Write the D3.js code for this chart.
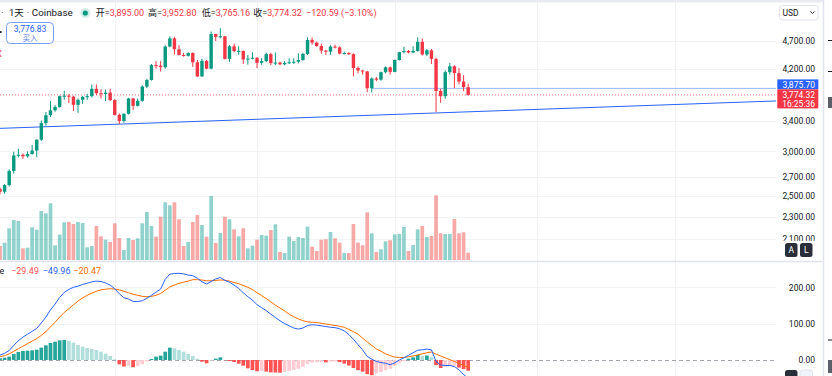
<!DOCTYPE html>
<html><head><meta charset="utf-8">
<script src="https://cdn.jsdelivr.net/npm/d3@7/dist/d3.min.js"></script>
<style>html,body{margin:0;padding:0;background:#fff;overflow:hidden}svg{display:block}text{font-family:Roboto,"Noto Sans CJK SC",sans-serif}</style>
</head><body><svg id="c" width="832" height="376"></svg>
<script>
// ---------------- DATA ----------------
const startDate = "2025-07-07"; // first daily candle (ETH/USD, Coinbase)
const opens = [2575,2545,2615,2770,2950,2958,2940,2968,3010,3145,3365,3475,3545,3592,3755,3762,3748,3625,3700,3745,
3755,3870,3800,3788,3810,3695,3480,3395,3495,3720,3610,3685,3905,4010,4260,4250,4225,4595,4750,4545,
4440,4425,4475,4310,4070,4335,4200,4835,4780,4790,4370,4600,4510,4515,4360,4375,4390,4300,4330,4455,
4295,4305,4275,4300,4310,4320,4350,4460,4720,4670,4605,4520,4500,4594,4580,4465,4475,4455,4210,4168,
4152,3878,4035,4015,4140,4222,4145,4350,4490,4515,4485,4515,4685,4450,4525,4370,3835,3755,4140,4240,
4125,3985,3895];
const highs = [2590,2625,2790,2995,3030,2975,3000,3080,3150,3400,3520,3680,3620,3765,3840,3790,3760,3720,3760,3790,
3935,3940,3860,3860,3870,3710,3500,3500,3730,3730,3720,3925,4030,4280,4330,4330,4620,4790,4780,4620,
4480,4490,4490,4350,4370,4350,4885,4840,4950,4800,4620,4650,4600,4520,4440,4490,4400,4385,4485,4480,
4485,4320,4330,4380,4380,4470,4480,4770,4770,4690,4650,4530,4620,4630,4600,4500,4490,4470,4240,4180,
4160,4055,4060,4150,4240,4235,4360,4500,4590,4530,4600,4770,4750,4550,4550,4390,3870,4170,4300,4260,
4210,4090,3952.80];
const lows = [2520,2525,2600,2740,2925,2910,2925,2960,2930,3130,3330,3450,3525,3585,3700,3650,3535,3510,3640,3700,
3735,3770,3720,3680,3680,3470,3355,3370,3485,3550,3600,3670,3880,4000,4200,4150,4200,4580,4450,4430,
4410,4410,4230,4060,4060,4190,4190,4700,4750,4360,4320,4490,4445,4280,4270,4360,4210,4265,4310,4260,
4260,4260,4260,4280,4280,4290,4340,4440,4630,4590,4460,4440,4440,4560,4450,4450,4440,4070,4120,4100,
3815,3815,3990,4000,4120,4100,4140,4340,4470,4470,4470,4500,4430,4420,4280,3520,3655,3715,4100,3880,
3940,3830,3765.16];
const closes = [2545,2615,2770,2950,2958,2940,2968,3010,3145,3365,3475,3545,3592,3755,3762,3748,3625,3700,3745,3755,
3870,3800,3788,3810,3695,3480,3395,3495,3720,3610,3685,3905,4010,4260,4250,4225,4595,4750,4545,4440,
4425,4475,4310,4070,4335,4200,4835,4780,4790,4370,4600,4510,4515,4360,4375,4390,4300,4330,4455,4295,
4305,4275,4300,4310,4320,4350,4460,4720,4670,4605,4520,4500,4594,4580,4465,4475,4455,4210,4168,4152,
3878,4035,4015,4140,4222,4145,4350,4490,4515,4485,4515,4685,4450,4525,4370,3835,3755,4140,4240,4125,
3985,3895,3774.32];
// volume, thousand ETH
const volumes = [140,173,317,400,390,117,123,327,303,490,467,567,147,253,377,380,360,380,370,127,
140,340,237,203,180,367,220,100,220,200,217,367,480,340,233,433,577,547,577,407,
140,180,380,450,350,233,640,170,270,433,407,307,237,317,117,143,203,250,243,300,
357,80,70,233,190,230,220,333,133,90,203,207,280,217,173,70,70,360,173,147,
477,267,80,107,187,197,257,260,330,90,150,307,340,230,240,647,267,260,260,410,
267,277,73];
const macdLine = [13.6,18.4,26,40.5,53,63,71,79,87,102,118,138,154,172,186,194,200,203,208,211,
215,217,216,212,206,196,182,171,168,161,161,163,170,178,187,195,222,236,238,238.5,
237,233.5,232,225,215,209,216,223,227,219,214,206,197,185,174,165,152,144,136,126,
117,108,100,94,88,85,88,95,97,96,94,92,90,89,86,80,70,57,42,28,
10,2,-4,-7,-9,-13,-8,0,6,13,20,27,28,30,28,-4,-14,-15,-15,-18,
-27,-40,-49.96];
const signalLine = [9,12,17,24,31,38,45,52,59,68,78,91,104,118,131,141,152,162,171,178,
184,189,193,195,196,195,193,189,185,181,178,175,174,175,178,183,192,201,206,211,
214,217,221,221,220,218,218,219,220,219.5,217,213,210,205,200,194,185,177,169,160,
151,143,135,126,119,113,108,105,104,103,101,99,97,95,93,90,84,78,71,60,
50,40,30,24,17,12,8,7,7,9,11,14,17,20,22,16,11,6,1,-4,
-9,-15,-20.47];
const histogram = [4.6,6.4,9.2,16.5,22,24.8,25.7,26.6,28.4,33.9,40.3,46.8,50.4,54.1,55,53,47.7,41.3,36.7,33,
30.3,27.5,22.9,17.4,11,1.8,-12,-18,-16,-20,-17,-12,-4,2.7,9.2,11.9,22.9,33.9,32,27.5,
22.9,16.5,11,3.7,-4.6,-9.2,-1.8,3.7,7.3,-0.5,-2.8,-5.5,-10,-15.6,-22.9,-27.5,-31,-30,-32,-34,
-34.5,-35,-33,-30,-27,-24,-19,-11,-7,-6,-5.5,-6.5,-4.5,-4,-6,-10,-15,-22,-28,-32,
-39,-42,-37,-33,-28,-24,-16,-9,-3,3.7,7.3,13.8,11,12.5,8.5,-14,-22,-19,-17,-16,
-21,-25,-29.49];
const priceTicks = [4700,4200,3400,3000,2700,2500,2300,2100];
const macdTicks = [200,100,0];
const trendAnchors = [{date:"2025-07-07", price:3294},{date:"2025-12-31", price:3702}];
const rayLevel = {date:"2025-09-26", price:3875.70};
const lastPrice = 3774.32;
const countdown = "16:25:36";
const buyPrice = "3,776.83";
const legendOHLC = {open:3895.00, high:3952.80, low:3765.16, close:3774.32, change:-120.59, pct:-3.10};
const macdLegend = {hist:-29.49, macd:-49.96, signal:-20.47};

// ---------------- LAYOUT ----------------
const svg = d3.select('#c');
const W = 832, H = 376, plotR = 776, step = 4.59;
const UP = '#089981', DN = '#f23645';
const parse = d3.utcParse('%Y-%m-%d');
const d0 = parse(startDate);
const dates = opens.map((_, i) => d3.utcDay.offset(d0, i));
const x = d3.scaleUtc().domain([d0, d3.utcDay.offset(d0, 177)]).range([0, 177 * step]);
const y = d3.scaleLog().domain([4700, 2100]).range([41, 239]);
const yV = d3.scaleLinear().domain([0, 700]).range([260, 190]);
const yM = d3.scaleLinear().domain([0, 200]).range([360, 287.3]);
const fmt = d3.format(',.2f');
const minus = s => s.replace('-', '−');

const defs = svg.append('defs');
defs.append('clipPath').attr('id','cm').append('rect').attr('x',0).attr('y',3).attr('width',plotR).attr('height',258);
defs.append('clipPath').attr('id','cd').append('rect').attr('x',0).attr('y',262).attr('width',plotR).attr('height',H-262);

svg.append('rect').attr('width',W).attr('height',H).attr('fill','#fff');
svg.append('rect').attr('width',W).attr('height',2.5).attr('fill','#e9ebf0');

// grid
const grid = svg.append('g');
grid.selectAll('.hg').data(priceTicks).join('line')
  .attr('x1',0).attr('x2',plotR).attr('y1',d=>Math.round(y(d))+0.5).attr('y2',d=>Math.round(y(d))+0.5)
  .attr('stroke','#f2f3f5');
grid.selectAll('.mg').data([200,100]).join('line')
  .attr('x1',0).attr('x2',plotR).attr('y1',d=>Math.round(yM(d))+0.5).attr('y2',d=>Math.round(yM(d))+0.5)
  .attr('stroke','#f2f3f5');
const months = d3.utcMonth.range(d3.utcMonth.ceil(d0), d3.utcDay.offset(d0, 170));
grid.selectAll('.vg').data(months).join('line')
  .attr('x1',d=>Math.round(x(d))+0.5).attr('x2',d=>Math.round(x(d))+0.5).attr('y1',3).attr('y2',H)
  .attr('stroke','#f0f1f4');

// main pane
const main = svg.append('g').attr('clip-path','url(#cm)');
const bw = 3.4, vw = 3.7;
main.selectAll('.vol').data(volumes).join('rect')
  .attr('x',(d,i)=>x(dates[i])-vw/2).attr('width',vw)
  .attr('y',d=>yV(d)).attr('height',d=>yV(0)-yV(d))
  .attr('fill',(d,i)=>closes[i]>=opens[i]?'rgba(38,166,154,0.5)':'rgba(239,83,80,0.5)');

// price line dotted
main.append('line').attr('x1',0).attr('x2',plotR).attr('y1',y(lastPrice)).attr('y2',y(lastPrice))
  .attr('stroke',DN).attr('stroke-opacity',0.7).attr('stroke-dasharray','1,2');
// horizontal ray
main.append('line').attr('x1',x(parse(rayLevel.date))).attr('x2',plotR)
  .attr('y1',y(rayLevel.price)).attr('y2',y(rayLevel.price)).attr('stroke','#9db7f8').attr('stroke-width',1);
// trend line
main.append('line')
  .attr('x1',x(parse(trendAnchors[0].date))).attr('y1',y(trendAnchors[0].price))
  .attr('x2',x(parse(trendAnchors[1].date))).attr('y2',y(trendAnchors[1].price))
  .attr('stroke','#2962ff').attr('stroke-width',1);

const cg = main.selectAll('.c').data(opens).join('g');
cg.append('line')
  .attr('x1',(d,i)=>x(dates[i])).attr('x2',(d,i)=>x(dates[i]))
  .attr('y1',(d,i)=>y(highs[i])).attr('y2',(d,i)=>y(lows[i]))
  .attr('stroke',(d,i)=>closes[i]>=opens[i]?UP:DN).attr('stroke-width',1);
cg.append('rect')
  .attr('x',(d,i)=>x(dates[i])-bw/2).attr('width',bw)
  .attr('y',(d,i)=>y(Math.max(opens[i],closes[i])))
  .attr('height',(d,i)=>Math.max(1,Math.abs(y(opens[i])-y(closes[i]))))
  .attr('fill',(d,i)=>closes[i]>=opens[i]?UP:DN);

// pane separator
svg.append('line').attr('x1',0).attr('x2',823).attr('y1',261.5).attr('y2',261.5).attr('stroke','#e0e3eb').attr('stroke-width',1.5);

// MACD pane
const mp = svg.append('g').attr('clip-path','url(#cd)');
mp.append('line').attr('x1',0).attr('x2',plotR).attr('y1',yM(0)+0.5).attr('y2',yM(0)+0.5)
  .attr('stroke','#a3a6af').attr('stroke-dasharray','4,3');
mp.selectAll('.h').data(histogram).join('rect')
  .attr('x',(d,i)=>x(dates[i])-vw/2).attr('width',vw)
  .attr('y',d=>Math.min(yM(d),yM(0))).attr('height',d=>Math.abs(yM(d)-yM(0)))
  .attr('fill',(d,i)=>{const p=i>0?histogram[i-1]:d; return d>=0?(d>=p?'#26a69a':'#b2dfdb'):(d<p?'#ff5252':'#ffcdd2');});
const ln = d3.line().x((d,i)=>x(dates[i])).y(d=>yM(d)).curve(d3.curveLinear);
mp.append('path').attr('d',ln(signalLine)).attr('fill','none').attr('stroke','#ff6d00').attr('stroke-width',1);
mp.append('path').attr('d',ln(macdLine)).attr('fill','none').attr('stroke','#2962ff').attr('stroke-width',1);

// right axes
const ax = svg.append('g').attr('transform','translate(818,0)')
  .call(d3.axisLeft(y).tickValues(priceTicks).tickFormat(fmt).tickSize(0).tickPadding(3));
ax.select('.domain').remove();
ax.selectAll('text').attr('font-size',8.5).attr('fill','#131722').attr('font-family','Roboto,sans-serif');
const axm = svg.append('g').attr('transform','translate(818,0)')
  .call(d3.axisLeft(yM).tickValues(macdTicks).tickFormat(fmt).tickSize(0).tickPadding(3));
axm.select('.domain').remove();
axm.selectAll('text').attr('font-size',8.5).attr('fill','#131722').attr('font-family','Roboto,sans-serif');
svg.append('rect').attr('x',777).attr('y',240.8).attr('width',45).attr('height',19.5).attr('fill','#fff');

// price tags
svg.append('rect').attr('x',777.3).attr('y',79.4).attr('width',41).attr('height',10).attr('fill','#2962ff');
svg.append('text').attr('x',815).attr('y',87.6).attr('text-anchor','end').attr('font-size',8.5).attr('fill','#fff').text(fmt(rayLevel.price));
svg.append('rect').attr('x',777.3).attr('y',89.4).attr('width',41).attr('height',19).attr('fill',DN);
svg.append('text').attr('x',815).attr('y',98).attr('text-anchor','end').attr('font-size',8.5).attr('fill','#fff').text(fmt(lastPrice));
svg.append('text').attr('x',815).attr('y',106.8).attr('text-anchor','end').attr('font-size',8.5).attr('fill','#fff').text(countdown);

// USD selector
svg.append('rect').attr('x',779.5).attr('y',5.5).attr('width',38.5).attr('height',14.5).attr('rx',3).attr('fill','#fff').attr('stroke','#e0e3eb');
svg.append('text').attr('x',782.5).attr('y',15.8).attr('font-size',8.5).attr('fill','#131722').text('USD');
svg.append('path').attr('d','M810.5,11.5 L812.5,13.5 L814.5,11.5').attr('fill','none').attr('stroke','#131722').attr('stroke-width',0.9);

// A / L buttons
[['A',785],['L',800]].forEach(([t,bx])=>{
  svg.append('rect').attr('x',bx).attr('y',243).attr('width',12.5).attr('height',14).attr('rx',2.5).attr('fill','#2a2e39');
  svg.append('text').attr('x',bx+6.25).attr('y',253.3).attr('text-anchor','middle').attr('font-size',8.5).attr('fill','#fff').text(t);
});
svg.append('rect').attr('x',785).attr('y',370).attr('width',12.5).attr('height',12).attr('rx',2.5).attr('fill','#2a2e39');
svg.append('rect').attr('x',800).attr('y',370).attr('width',12.5).attr('height',12).attr('rx',2.5).attr('fill','#f0f3fa').attr('stroke','#e0e3eb');

// right toolbar edge
svg.append('rect').attr('x',822.5).attr('y',0).attr('width',9.5).attr('height',H).attr('fill','#fff');
svg.append('line').attr('x1',823.5).attr('x2',823.5).attr('y1',0).attr('y2',H).attr('stroke','#e0e3eb').attr('stroke-width',1.5);
[[40.5],[71.5],[340]].forEach(([yy])=>svg.append('line').attr('x1',828).attr('x2',832).attr('y1',yy).attr('y2',yy).attr('stroke','#131722'));
svg.append('rect').attr('x',828).attr('y',97).attr('width',4).attr('height',11).attr('fill','#5d606b');
svg.append('rect').attr('x',828).attr('y',360).attr('width',4).attr('height',13).attr('fill','#5d606b');

// header legend
const hy = 16.3, hf = 9;
const hd = svg.append('g').attr('font-size',hf);
hd.append('text').attr('x',1.2).attr('y',hy).attr('fill','#131722').text('·');
hd.append('text').attr('x',9).attr('y',hy).attr('font-size',9.5).attr('fill','#131722').text('1天');
hd.append('text').attr('x',26.8).attr('y',hy).attr('fill','#131722').text('·');
hd.append('text').attr('x',31.8).attr('y',hy).attr('font-size',9.8).attr('fill','#131722').text('Coinbase');
hd.append('circle').attr('cx',85.3).attr('cy',13).attr('r',5).attr('fill','rgba(8,153,129,0.18)');
hd.append('circle').attr('cx',85.3).attr('cy',13).attr('r',2.6).attr('fill',UP);
[['开',legendOHLC.open,95.7],['高',legendOHLC.high,148],['低',legendOHLC.low,201.7],['收',legendOHLC.close,253.3]].forEach(([k,v,px])=>{
  const t = hd.append('text').attr('x',px).attr('y',hy);
  t.append('tspan').attr('fill','#131722').text(k+'=');
  t.append('tspan').attr('fill',DN).text(fmt(v));
});
hd.append('text').attr('x',306).attr('y',hy).attr('fill',DN)
  .text(minus(fmt(legendOHLC.change)) + ' (' + minus(d3.format('.2f')(legendOHLC.pct)) + '%)');

// buy box
svg.append('rect').attr('x',6.5).attr('y',22.5).attr('width',47).attr('height',21).attr('rx',4).attr('fill','#fff').attr('stroke','#7d9cf5');
svg.append('text').attr('x',30).attr('y',31.8).attr('text-anchor','middle').attr('font-size',8.5).attr('fill','#2962ff').text(buyPrice);
svg.append('text').attr('x',30).attr('y',41).attr('text-anchor','middle').attr('font-size',7.5).attr('fill','#5b7fe8').text('买入');
svg.append('circle').attr('cx',0.8).attr('cy',32).attr('r',1).attr('fill','#131722');
svg.append('text').attr('x',-3.8).attr('y',56.5).attr('font-size',9).attr('fill',DN).text('X');

// MACD legend
const my = 274.3;
const ml = svg.append('g').attr('font-size',9);
ml.append('text').attr('x',-0.5).attr('y',my).attr('fill','#131722').text('e');
ml.append('text').attr('x',11).attr('y',my).attr('fill','#ff5252').text(minus(d3.format('.2f')(macdLegend.hist)));
ml.append('text').attr('x',42.7).attr('y',my).attr('fill','#2962ff').text(minus(d3.format('.2f')(macdLegend.macd)));
ml.append('text').attr('x',73.3).attr('y',my).attr('fill','#ff6d00').text(minus(d3.format('.2f')(macdLegend.signal)));
</script></body></html>
